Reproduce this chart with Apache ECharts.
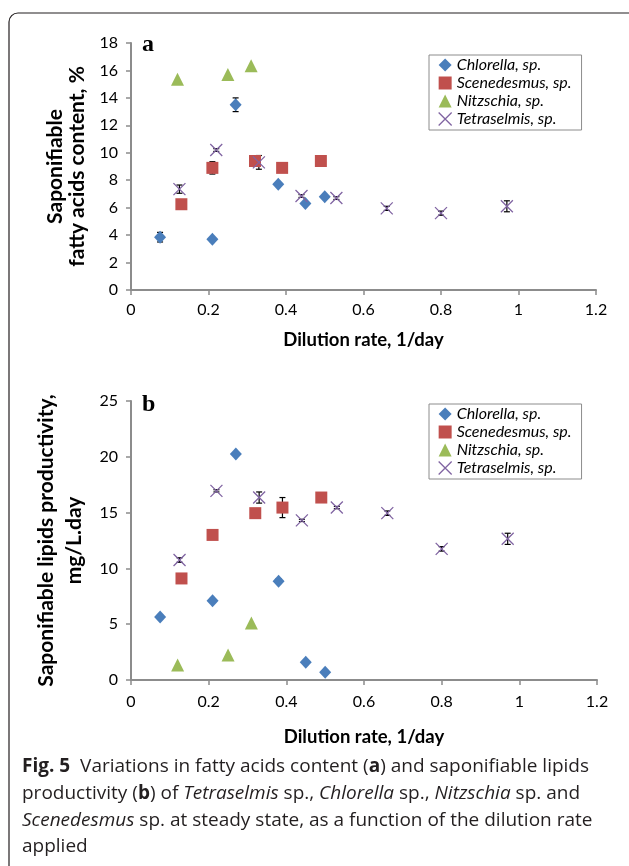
<!DOCTYPE html>
<html>
<head>
<meta charset="utf-8">
<script src="https://cdn.jsdelivr.net/npm/echarts@6/dist/echarts.min.js"></script>
<style>
html, body { margin: 0; padding: 0; background: #fff; }
#chart { width: 629px; height: 866px; }
</style>
</head>
<body>
<div id="chart"></div>
<script>
var seriesNames = ['Chlorella, sp.', 'Scenedesmus, sp.', 'Nitzschia, sp.', 'Tetraselmis, sp.'];

// panel a - saponifiable fatty acids content, %
var chlorellaA = [[0.075, 3.85], [0.21, 3.7], [0.27, 13.5], [0.38, 7.7], [0.45, 6.3], [0.50, 6.8]];
var chlorellaErrA = [0.35, 0, 0.5, 0, 0, 0];
var scenedesmusA = [[0.13, 6.25], [0.21, 8.9], [0.32, 9.4], [0.39, 8.9], [0.49, 9.4]];
var scenedesmusErrA = [0, 0.45, 0, 0, 0];
var nitzschiaA = [[0.12, 15.35], [0.25, 15.7], [0.31, 16.35]];
var nitzschiaErrA = [0, 0, 0];
var tetraselmisA = [[0.125, 7.35], [0.22, 10.2], [0.33, 9.3], [0.44, 6.85], [0.53, 6.7], [0.66, 5.95], [0.80, 5.6], [0.97, 6.1]];
var tetraselmisErrA = [0.3, 0.1, 0.5, 0.1, 0.1, 0.15, 0.15, 0.4];

// panel b - saponifiable lipids productivity, mg/L.day
var chlorellaB = [[0.075, 5.65], [0.21, 7.1], [0.27, 20.25], [0.38, 8.85], [0.45, 1.6], [0.50, 0.7]];
var chlorellaErrB = [0, 0, 0, 0.2, 0, 0];
var scenedesmusB = [[0.13, 9.1], [0.21, 13.0], [0.32, 14.95], [0.39, 15.45], [0.49, 16.35]];
var scenedesmusErrB = [0, 0, 0, 0.9, 0];
var nitzschiaB = [[0.12, 1.35], [0.25, 2.25], [0.31, 5.1]];
var nitzschiaErrB = [0, 0, 0];
var tetraselmisB = [[0.125, 10.75], [0.22, 16.95], [0.33, 16.35], [0.44, 14.3], [0.53, 15.45], [0.66, 14.95], [0.80, 11.75], [0.97, 12.65]];
var tetraselmisErrB = [0.2, 0.1, 0.5, 0.1, 0.1, 0.2, 0.2, 0.5];

var colors = ['#4a7ebb', '#c0504d', '#9bbb59', '#8064a2'];
var symbols = ['diamond', 'rect', 'triangle', 'path://M0,0L10,10M10,0L0,10'];
var sizes = [[12, 13], 12, 13, 12];

var axisGray = '#8c8c8c';
var labelFont = 'Lato';

function withErr(pts, errs) {
    var out = [];
    for (var i = 0; i < pts.length; i++) {
        if (errs[i] > 0) out.push([pts[i][0], pts[i][1], errs[i]]);
    }
    return out;
}

function renderErr(params, api) {
    var x = api.value(0), y = api.value(1), e = api.value(2);
    var top = api.coord([x, y + e]);
    var bot = api.coord([x, y - e]);
    var w = 3;
    var st = { stroke: '#000', lineWidth: 1.2 };
    return {
        type: 'group',
        children: [
            { type: 'line', shape: { x1: top[0], y1: top[1], x2: bot[0], y2: bot[1] }, style: st },
            { type: 'line', shape: { x1: top[0] - w, y1: top[1], x2: top[0] + w, y2: top[1] }, style: st },
            { type: 'line', shape: { x1: bot[0] - w, y1: bot[1], x2: bot[0] + w, y2: bot[1] }, style: st }
        ]
    };
}

function xAxisOf(grid, margin, nameGap) {
    return {
        type: 'value', gridIndex: grid, min: 0, max: 1.2, interval: 0.2,
        name: 'Dilution rate, 1/day', nameLocation: 'middle', nameGap: nameGap,
        nameTextStyle: { fontFamily: labelFont, fontWeight: 'bold', fontSize: 18.5, color: '#000' },
        axisLine: { lineStyle: { color: axisGray, width: 2 } },
        axisTick: { length: 5, lineStyle: { color: axisGray, width: 1.5 } },
        axisLabel: {
            margin: margin, fontFamily: labelFont, fontSize: 16, color: '#000',
            formatter: function (v) { return String(+v.toFixed(1)); }
        },
        splitLine: { show: false }
    };
}

function yAxisOf(grid, max, interval, name, nameGap, lineHeight) {
    return {
        type: 'value', gridIndex: grid, min: 0, max: max, interval: interval,
        name: name, nameLocation: 'middle', nameGap: nameGap, nameRotate: 90,
        nameTextStyle: { fontFamily: labelFont, fontWeight: 'bold', fontSize: 21, color: '#000', lineHeight: lineHeight },
        axisLine: { show: true, lineStyle: { color: axisGray, width: 2 } },
        axisTick: { show: true, length: 5, lineStyle: { color: axisGray, width: 1.5 } },
        axisLabel: { margin: 13, fontFamily: labelFont, fontSize: 16, color: '#000' },
        splitLine: { show: false }
    };
}

var panelData = [
    [chlorellaA, scenedesmusA, nitzschiaA, tetraselmisA],
    [chlorellaB, scenedesmusB, nitzschiaB, tetraselmisB]
];
var panelErr = [
    [chlorellaErrA, scenedesmusErrA, nitzschiaErrA, tetraselmisErrA],
    [chlorellaErrB, scenedesmusErrB, nitzschiaErrB, tetraselmisErrB]
];

var series = [];
for (var p = 0; p < 2; p++) {
    for (var s = 0; s < 4; s++) {
        series.push({
            type: 'custom', xAxisIndex: p, yAxisIndex: p, z: 1,
            renderItem: renderErr,
            encode: { x: 0, y: 1 },
            data: withErr(panelData[p][s], panelErr[p][s]),
            silent: true
        });
    }
    for (var s2 = 0; s2 < 4; s2++) {
        var isX = s2 === 3;
        series.push({
            name: seriesNames[s2], type: 'scatter', xAxisIndex: p, yAxisIndex: p, z: 2,
            symbol: symbols[s2], symbolSize: sizes[s2],
            itemStyle: isX
                ? { color: colors[s2], borderColor: colors[s2], borderWidth: 1.3, opacity: 1 }
                : { color: colors[s2], opacity: 1 },
            data: panelData[p][s2]
        });
    }
}

var legendItems = seriesNames.map(function (n, i) {
    var it = { name: n, icon: symbols[i] };
    if (i === 3) it.itemStyle = { color: colors[i], borderColor: colors[i], borderWidth: 1.3 };
    return it;
});

function legendAt(top) {
    return {
        orient: 'vertical', left: 429, top: top,
        itemWidth: 13, itemHeight: 13, itemGap: 2,
        padding: [2, 10, 3, 9],
        borderColor: axisGray, borderWidth: 1,
        selectedMode: false,
        textStyle: { fontFamily: labelFont, fontStyle: 'italic', fontSize: 16, color: '#000' },
        data: legendItems
    };
}

var capFont = 'Open Sans';
var capSize = 19;
var capRich = {
    b: { fontFamily: capFont, fontSize: capSize, fontWeight: 'bold', fill: '#231f20' },
    i: { fontFamily: capFont, fontSize: capSize, fontStyle: 'italic', fill: '#231f20' }
};
var captionLines = [
    '{b|Fig. 5}  Variations in fatty acids content ({b|a}) and saponifiable lipids',
    'productivity ({b|b}) of {i|Tetraselmis} sp., {i|Chlorella} sp., {i|Nitzschia} sp. and',
    '{i|Scenedesmus} sp. at steady state, as a function of the dilution rate',
    'applied'
];
var captionY = [767, 794, 821, 847];

var graphics = [
    { type: 'rect', shape: { x: 9, y: 13, width: 700, height: 900, r: 9 },
      style: { fill: 'none', stroke: '#231f20', lineWidth: 1.2 }, silent: true },
    { type: 'text', x: 142, y: 45, style: { text: 'a', font: 'bold 24px "Liberation Serif"', fill: '#000', verticalAlign: 'middle' } },
    { type: 'text', x: 142, y: 405, style: { text: 'b', font: 'bold 24px "Liberation Serif"', fill: '#000', verticalAlign: 'middle' } }
];
captionLines.forEach(function (t, i) {
    graphics.push({
        type: 'text', x: 22, y: captionY[i],
        style: {
            text: t, rich: capRich, fontFamily: capFont, fontSize: capSize,
            fill: '#231f20', verticalAlign: 'middle'
        }
    });
});

var chart = echarts.init(document.getElementById('chart'), null, { renderer: 'canvas' });
chart.setOption({
    animation: false,
    backgroundColor: '#fff',
    grid: [
        { left: 131, top: 43, width: 465, height: 247 },
        { left: 131, top: 401, width: 466, height: 279 }
    ],
    xAxis: [xAxisOf(0, 12, 41), xAxisOf(1, 14, 48)],
    yAxis: [
        yAxisOf(0, 18, 2, 'Saponifiable\nfatty acids content, %', 37, 22),
        yAxisOf(1, 25, 5, 'Saponifiable lipids productivity,\nmg/L.day', 43, 28)
    ],
    legend: [legendAt(55), legendAt(404)],
    graphic: graphics,
    series: series
});
</script>
</body>
</html>
